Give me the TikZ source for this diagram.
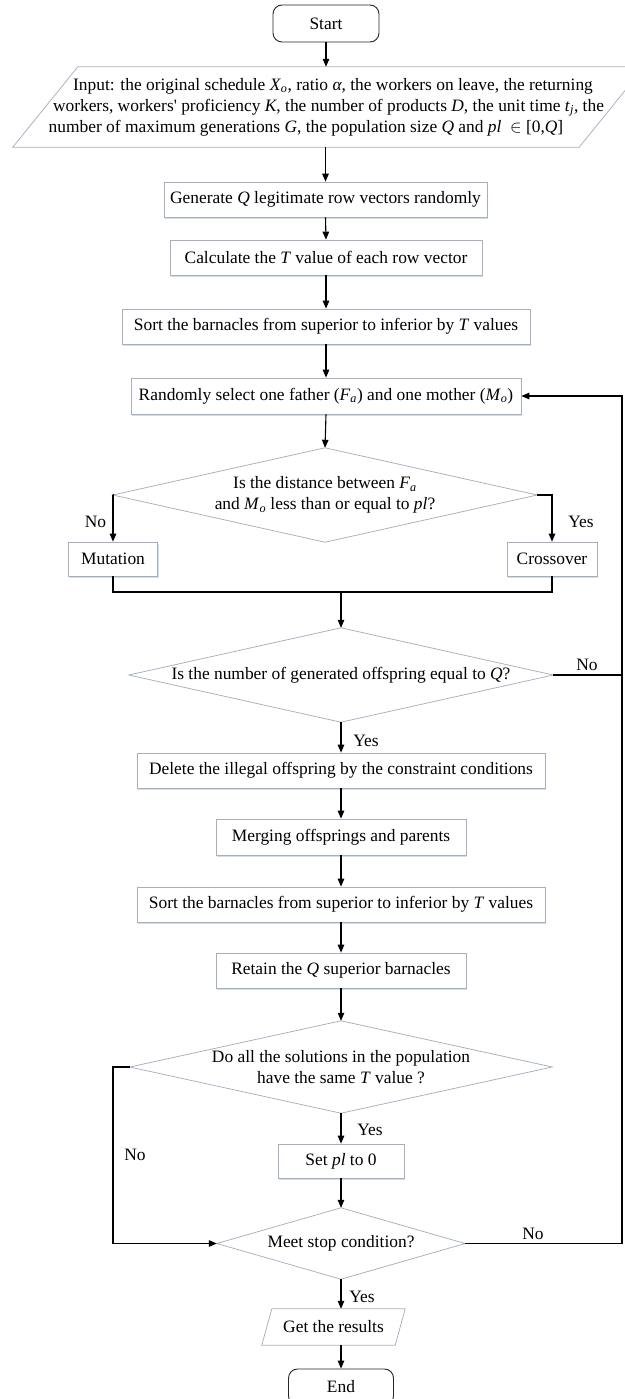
\documentclass[tikz,border=0pt]{standalone}
\usepackage{fontspec}
\setmainfont{Liberation Serif}
\usetikzlibrary{arrows.meta,calc,shadows}
\definecolor{bordc}{RGB}{165,175,190}
\definecolor{shadc}{RGB}{200,212,228}
\newcommand\subit[1]{\textsubscript{\textit{#1}}}
\begin{document}
\begin{tikzpicture}[x=1pt,y=-1pt,
  font=\fontsize{17.4}{21}\selectfont,
  boxn/.style={draw=bordc, line width=0.7pt, fill=white, inner sep=0pt, align=center,
     drop shadow={shadow xshift=1.2pt, shadow yshift=-1.5pt, fill=shadc, opacity=0.8}},
  term/.style={draw=black!85, line width=0.9pt, rounded corners=9pt, inner sep=0pt, fill=white},
  ghost/.style={inner sep=0pt, align=center},
  shapeline/.style={draw=bordc, line width=0.75pt},
  conn/.style={line width=1.1pt, draw=black},
  arr/.style={conn, -{Triangle[length=8pt,width=6.5pt]}},
  lbl/.style={inner sep=0pt}]
\useasboundingbox (0,0) rectangle (624,1399);

% nodes
\node[term, minimum width=106pt, minimum height=37pt] (start) at (326,23.5) {Start};
\node[ghost, minimum width=631pt, minimum height=80pt] (in) at (328.5,107) {%
  \hspace*{9pt}Input: the original schedule \textit{X}\subit{o}, ratio \textit{α}, the workers on leave, the returning\\
  workers, workers\textquotesingle{} proficiency \textit{K}, the number of products \textit{D}, the unit time \textit{t}\subit{j}, the\hspace*{6pt}\\
  number of maximum generations \textit{G}, the population size \textit{Q} and \textit{pl}~ $\in$ [0,\textit{Q}]\hspace*{45pt}};
\draw[shapeline] (in.south west) -- ($(in.north west)+(65,0)$) -- (in.north east) -- ($(in.south east)+(-65,0)$) -- cycle;

\node[boxn, minimum width=323pt, minimum height=35pt] (gen) at (325.5,199.5) {Generate \textit{Q} legitimate row vectors randomly};
\node[boxn, minimum width=312pt, minimum height=35pt] (calc) at (326,257.5) {Calculate the \textit{T} value of each row vector};
\node[boxn, minimum width=408pt, minimum height=35pt] (sorta) at (326,326.5) {Sort the barnacles from superior to inferior by \textit{T} values};
\node[boxn, minimum width=390pt, minimum height=36pt] (rand) at (326,396) {Randomly select one father (\textit{F}\subit{a}) and one mother (\textit{M}\subit{o})};

\node[ghost, minimum width=424pt, minimum height=94pt] (da) at (325,495) {Is the distance between \textit{F}\subit{a}\\ and \textit{M}\subit{o} less than or equal to \textit{pl}?};
\draw[shapeline] (da.north) -- (da.east) -- (da.south) -- (da.west) -- cycle;

\node[boxn, minimum width=89pt, minimum height=34pt] (mut) at (113,559) {Mutation};
\node[boxn, minimum width=90pt, minimum height=34pt] (cross) at (552,559) {Crossover};

\node[ghost, minimum width=424pt, minimum height=94pt] (db) at (341,675) {Is the number of generated offspring equal to \textit{Q}?};
\draw[shapeline] (db.north) -- (db.east) -- (db.south) -- (db.west) -- cycle;

\node[boxn, minimum width=408pt, minimum height=35pt] (del) at (341,770.5) {Delete the illegal offspring by the constraint conditions};
\node[boxn, minimum width=250pt, minimum height=36pt] (merge) at (341,837) {Merging offsprings and parents};
\node[boxn, minimum width=408pt, minimum height=35pt] (sortb) at (341,904.5) {Sort the barnacles from superior to inferior by \textit{T} values};
\node[boxn, minimum width=250pt, minimum height=35pt] (keep) at (341,970.5) {Retain the \textit{Q} superior barnacles};

\node[ghost, minimum width=422pt, minimum height=92pt] (dc) at (341,1067) {Do all the solutions in the population\\ have the same \textit{T} value ?};
\draw[shapeline] (dc.north) -- (dc.east) -- (dc.south) -- (dc.west) -- cycle;

\node[boxn, minimum width=126pt, minimum height=34pt] (setpl) at (341,1161) {Set \textit{pl} to 0};

\node[ghost, minimum width=248pt, minimum height=71pt] (meet) at (341,1243.5) {Meet stop condition?};
\draw[shapeline] (meet.north) -- (meet.east) -- (meet.south) -- (meet.west) -- cycle;

\node[ghost, minimum width=143pt, minimum height=36pt] (res) at (333.5,1327) {Get the results};
\draw[shapeline] (res.south west) -- ($(res.north west)+(10,0)$) -- (res.north east) -- ($(res.south east)+(-10,0)$) -- cycle;

\node[term, minimum width=105pt, minimum height=36pt] (fin) at (341,1387) {End};

% helper coordinates
\coordinate (mrg) at (341,592);
\coordinate (rloop) at (622,396);
\coordinate (rjoin) at (622,675);
\coordinate (lloop) at (113,1243.5);

% connectors
\draw[arr] (start.south) -- (start.south |- in.north);
\draw[arr] (gen.north |- in.south) -- (gen.north);
\draw[arr] (gen.south) -- (calc.north);
\draw[arr] (calc.south) -- (sorta.north);
\draw[arr] (sorta.south) -- (rand.north);
\draw[arr] (rand.south) -- (da.north);
\draw[arr] (da.west) -| (mut.north);
\draw[arr] (da.east) -| (cross.north);
\draw[conn] (mut.south) |- (mrg) -| (cross.south);
\draw[arr] (mrg) -- (db.north);
\draw[arr] (db.east) -| (rloop) -- (rand.east);
\draw[arr] (db.south) -- (del.north);
\draw[arr] (del.south) -- (merge.north);
\draw[arr] (merge.south) -- (sortb.north);
\draw[arr] (sortb.south) -- (keep.north);
\draw[arr] (keep.south) -- (dc.north);
\draw[arr] (dc.south) -- (setpl.north);
\draw[arr] (dc.west) -| (lloop) -- (meet.west);
\draw[arr] (setpl.south) -- (meet.north);
\draw[conn] (meet.east) -| (rjoin);
\draw[arr] (meet.south) -- (meet.south |- res.north);
\draw[arr] (fin.north |- res.south) -- (fin.north);

% labels
\node[lbl] (l1) at (95.5,522) {No};
\node[lbl] (l2) at (581,522) {Yes};
\node[lbl] (l3) at (587,665) {No};
\node[lbl] (l4) at (366,741) {Yes};
\node[lbl] (l5) at (370,1130) {Yes};
\node[lbl] (l6) at (135,1155) {No};
\node[lbl] (l7) at (533,1234) {No};
\node[lbl] (l8) at (362,1297) {Yes};
\end{tikzpicture}
\end{document}
